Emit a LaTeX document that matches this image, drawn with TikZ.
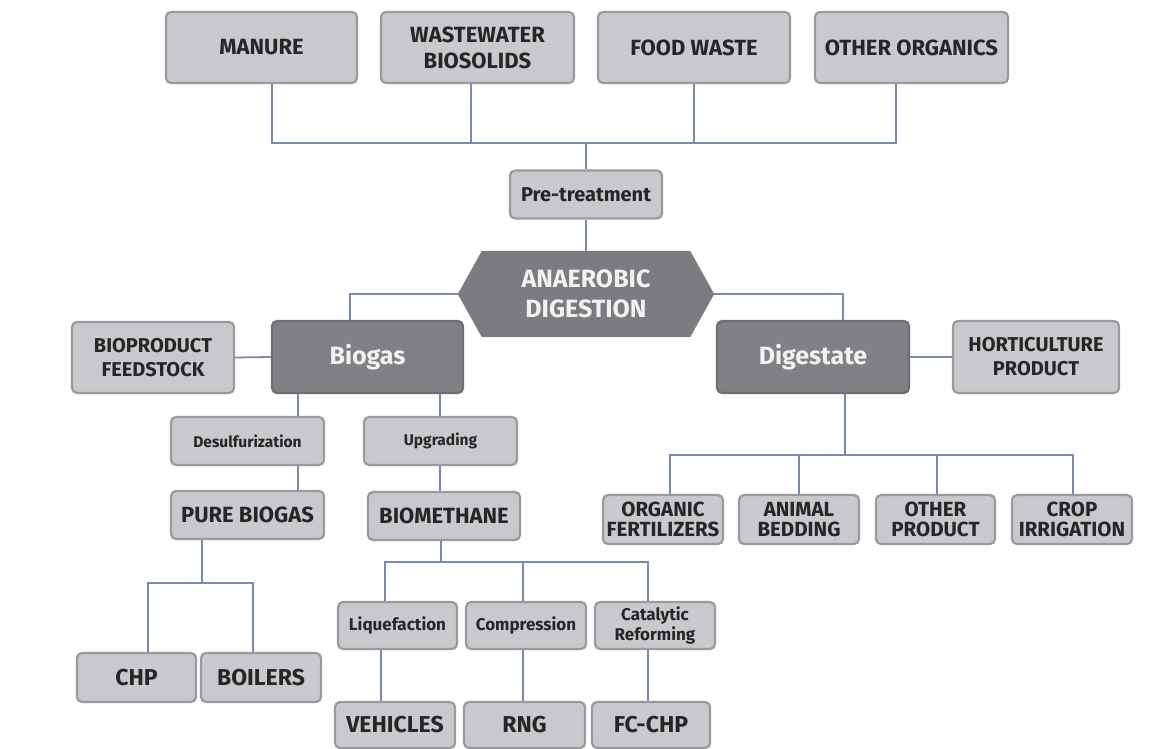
\documentclass[tikz,border=0pt]{standalone}
\usepackage{fontspec}
\setmainfont{Fira Sans}
\definecolor{lfill}{HTML}{C9C8CD}
\definecolor{ldraw}{HTML}{9A999E}
\definecolor{dfill}{HTML}{818085}
\definecolor{ddraw}{HTML}{6F6E73}
\definecolor{hexfill}{HTML}{7C7B80}
\definecolor{conncol}{HTML}{7A8BAA}
\definecolor{txt}{HTML}{262626}
\definecolor{wtxt}{HTML}{F2F2F2}
\tikzset{
  lbox/.style={draw=ldraw, fill=lfill, line width=2.2pt, rounded corners=5pt, inner sep=0pt, align=center, text=txt, font=\bfseries},
  dbox/.style={draw=ddraw, fill=dfill, line width=2.2pt, rounded corners=5pt, inner sep=0pt, align=center, text=wtxt, font=\bfseries\fontsize{25}{30}\selectfont},
  conn/.style={draw=conncol, line width=1.8pt},
  sz/.style 2 args={minimum width=#1pt, minimum height=#2pt},
  ftop/.style={font=\bfseries\fontsize{22}{26}\selectfont},
  fmid/.style={font=\bfseries\fontsize{20}{24}\selectfont},
  fsmall/.style={font=\bfseries\fontsize{15.5}{19}\selectfont},
  fproc/.style={font=\bfseries\fontsize{17}{20}\selectfont},
  fbig/.style={font=\bfseries\fontsize{23}{27}\selectfont},
  fdig/.style={font=\bfseries\fontsize{20.5}{20}\selectfont},
}
\begin{document}
\begin{tikzpicture}[x=1pt,y=-1pt]
\useasboundingbox (0,0) rectangle (1156,749);
\fill[white] (0,0) rectangle (1156,749);
% top sources
\node[lbox,ftop,sz={191}{71}] (manure) at (261.5,47.5) {MANURE};
\node[lbox,ftop,sz={193}{71}] (ww) at (477.5,47.5) {WASTEWATER\\BIOSOLIDS};
\node[lbox,ftop,sz={192}{71}] (fw) at (694,47.5) {FOOD WASTE};
\node[lbox,ftop,sz={193}{71}] (oo) at (911.5,47.5) {OTHER ORGANICS};
\node[lbox,fmid,sz={152}{48}] (pre) at (586,194.5) {Pre-treatment};
% anaerobic digestion hexagon
\node[sz={256}{86}, inner sep=0pt] (ad) at (586,294) {};
\fill[hexfill] (ad.west) -- ([xshift=24pt]ad.north west) -- ([xshift=-24pt]ad.north east) -- (ad.east) -- ([xshift=-24pt]ad.south east) -- ([xshift=24pt]ad.south west) -- cycle;
\node[align=center, text=wtxt, font=\bfseries\fontsize{25}{30}\selectfont] (adt) at (ad.center) {ANAEROBIC\\DIGESTION};
% biogas / digestate
\node[dbox,sz={191}{72}] (biogas) at (367.5,357) {Biogas};
\node[dbox,sz={192}{72}] (dig) at (813,357) {Digestate};
\node[lbox,fmid,sz={162}{71}] (biop) at (153,357.5) {BIOPRODUCT\\FEEDSTOCK};
\node[lbox,fmid,sz={166}{72}] (hort) at (1036,357) {HORTICULTURE\\PRODUCT};
% biogas branch
\node[lbox,fsmall,sz={153}{48}] (desulf) at (247.5,441) {Desulfurization};
\node[lbox,fsmall,sz={153}{48}] (upg) at (440.5,441) {Upgrading};
\node[lbox,ftop,sz={153}{48}] (pure) at (247.5,515) {PURE BIOGAS};
\node[lbox,ftop,sz={152}{48}] (biom) at (444,516) {BIOMETHANE};
\node[lbox,fbig,sz={119}{49}] (chp) at (136.5,677.5) {CHP};
\node[lbox,fbig,sz={120}{49}] (boil) at (261,677.5) {BOILERS};
\node[lbox,fproc,sz={119}{47}] (liq) at (397.5,625.5) {Liquefaction};
\node[lbox,fproc,sz={120}{47}] (comp) at (526,625.5) {Compression};
\node[lbox,fproc,sz={120}{47}] (cat) at (655,625.5) {Catalytic\\Reforming};
\node[lbox,fbig,sz={120}{46}] (veh) at (395,725) {VEHICLES};
\node[lbox,fbig,sz={121}{46}] (rng) at (524.5,725) {RNG};
\node[lbox,fbig,sz={118}{46}] (fcchp) at (651,725) {FC-CHP};
% digestate branch
\node[lbox,fdig,sz={120}{49}] (orgf) at (663,519.5) {ORGANIC\\FERTILIZERS};
\node[lbox,fdig,sz={120}{49}] (bed) at (799,519.5) {ANIMAL\\BEDDING};
\node[lbox,fdig,sz={119}{49}] (oprod) at (935.5,519.5) {OTHER\\PRODUCT};
\node[lbox,fdig,sz={120}{49}] (crop) at (1072,519.5) {CROP\\IRRIGATION};
% junction coordinates
\coordinate (hub) at (586,143);
\coordinate (bmj) at (441,562);
\coordinate (pbj) at (202,583);
\coordinate (dgj) at (845,455);
% connectors: sources
\draw[conn] ([xshift=10.5pt]manure.south) |- (hub);
\draw[conn] ([xshift=-6.5pt]ww.south) |- (hub);
\draw[conn] (fw.south) |- (hub);
\draw[conn] ([xshift=-15.5pt]oo.south) |- (hub);
\draw[conn] (hub) -- (pre.north);
\draw[conn] (pre.south) -- (ad.north);
\draw[conn] (ad.west) -| ([xshift=-17.5pt]biogas.north);
\draw[conn] (ad.east) -| ([xshift=30pt]dig.north);
\draw[conn] (biop.east) -- (biogas.west);
\draw[conn] (dig.east) -- (hort.west);
% biogas branch connectors
\draw[conn] ([xshift=-69.5pt]biogas.south) -- ([xshift=50.5pt]desulf.north);
\draw[conn] ([xshift=72.5pt]biogas.south) -- ([xshift=-0.5pt]upg.north);
\draw[conn] ([xshift=50.5pt]desulf.south) -- ([xshift=50.5pt]pure.north);
\draw[conn] ([xshift=-0.5pt]upg.south) -- ([xshift=-4pt]biom.north);
\draw[conn] ([xshift=-45.5pt]pure.south) -- (pbj);
\draw[conn] (pbj) -| ([xshift=11.5pt]chp.north);
\draw[conn] (pbj) -| ([xshift=-8pt]boil.north);
\draw[conn] ([xshift=-3pt]biom.south) -- (bmj);
\draw[conn] (bmj) -| ([xshift=-12.5pt]liq.north);
\draw[conn] (bmj) -| ([xshift=-3pt]comp.north);
\draw[conn] (bmj) -| ([xshift=-7pt]cat.north);
\draw[conn] ([xshift=-16.5pt]liq.south) -- ([xshift=-14pt]veh.north);
\draw[conn] ([xshift=-3pt]comp.south) -- ([xshift=-1.5pt]rng.north);
\draw[conn] ([xshift=-7pt]cat.south) -- ([xshift=-3pt]fcchp.north);
% digestate branch connectors
\draw[conn] ([xshift=32pt]dig.south) -- (dgj);
\draw[conn] (dgj) -| ([xshift=7pt]orgf.north);
\draw[conn] (dgj) -| (bed.north);
\draw[conn] (dgj) -| ([xshift=1.5pt]oprod.north);
\draw[conn] (dgj) -| ([xshift=1pt]crop.north);
\end{tikzpicture}
\end{document}
